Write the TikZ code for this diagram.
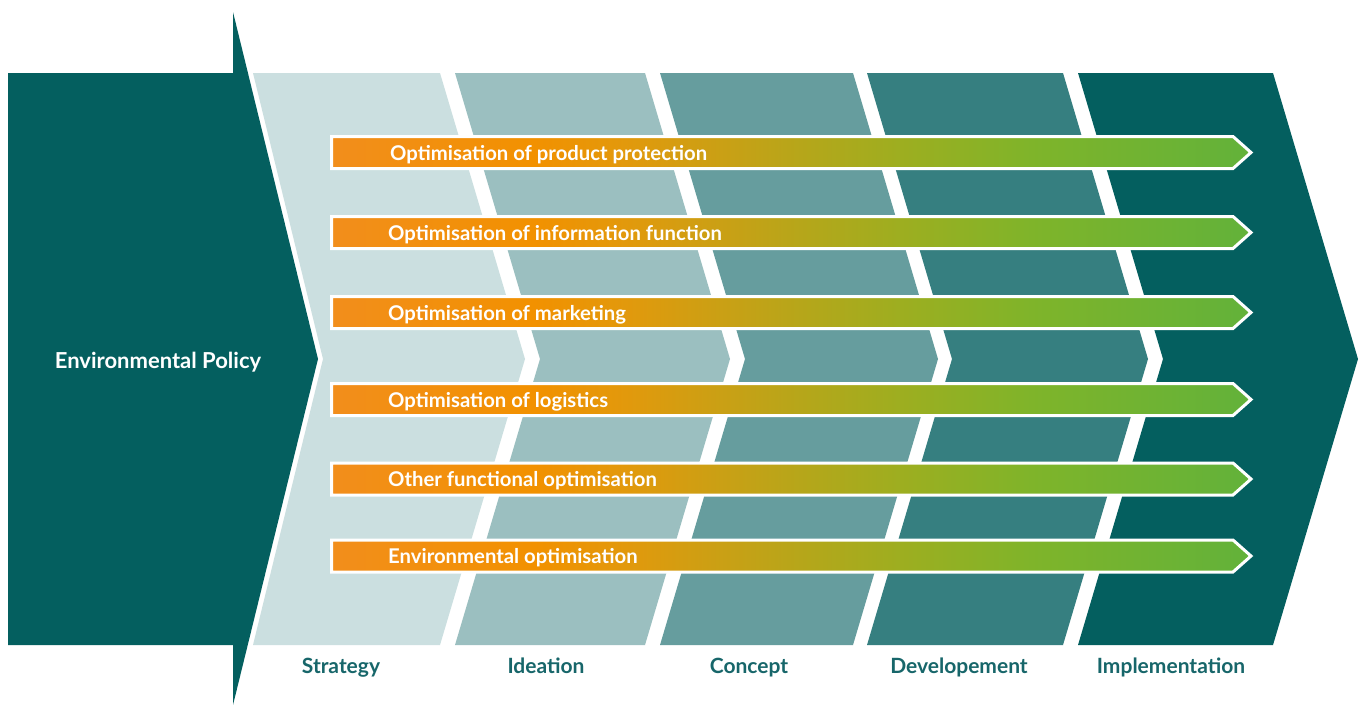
\documentclass[tikz,border=0pt]{standalone}
\usepackage{fontspec}
\setmainfont{Lato}
\definecolor{policyc}{HTML}{045F5F}
\definecolor{strategyc}{HTML}{CBDFE0}
\definecolor{ideationc}{HTML}{9BBFC0}
\definecolor{conceptc}{HTML}{669D9E}
\definecolor{developc}{HTML}{367F80}
\definecolor{implc}{HTML}{045F5F}
\definecolor{labelc}{HTML}{17666A}
\definecolor{orA}{HTML}{F28E1C}
\definecolor{orB}{HTML}{F29100}
\definecolor{orC}{HTML}{E2990C}
\definecolor{midC}{HTML}{C6A116}
\definecolor{grA}{HTML}{9DAE20}
\definecolor{grB}{HTML}{7FB42A}
\definecolor{grC}{HTML}{62B23A}
\pgfdeclarehorizontalshading{arrowshade}{100bp}{color(0bp)=(orA); color(25bp)=(orA); color(36bp)=(orB); color(41bp)=(orC); color(47bp)=(midC); color(56bp)=(grA); color(63bp)=(grB); color(75bp)=(grC); color(100bp)=(grC)}
\begin{document}
\begin{tikzpicture}[x=1pt,y=-1pt,
  arrowbody/.style={shade, shading=arrowshade, draw=white, line width=3pt, line join=miter},
  arrowlabel/.style={anchor=base west, text=white, inner sep=0pt, font=\bfseries\fontsize{20.3}{22}\selectfont},
  stagelabel/.style={anchor=base, text=labelc, inner sep=0pt, font=\bfseries\fontsize{21}{23}\selectfont},
  policylabel/.style={anchor=base, text=white, inner sep=0pt, font=\bfseries\fontsize{22}{24}\selectfont}]
\useasboundingbox[fill=white] (0,0) rectangle (1362,704);
% environmental policy block
\fill[policyc] (8,73) -- (233,73) -- (233,12) -- (318,359) -- (233,705) -- (233,645) -- (8,645) -- cycle;
\node[policylabel] (policy) at (158,368) {Environmental Policy};
% stage bands
\fill[strategyc] (253,73) -- (323,359) -- (253,645) -- (440,645) -- (525,359) -- (440,73) -- cycle;
\fill[ideationc] (455,73) -- (540,359) -- (455,645) -- (645,645) -- (730,359) -- (645,73) -- cycle;
\fill[conceptc] (660,73) -- (745,359) -- (660,645) -- (853,645) -- (938,359) -- (853,73) -- cycle;
\fill[developc] (867,73) -- (952,359) -- (867,645) -- (1063,645) -- (1148,359) -- (1063,73) -- cycle;
\fill[implc] (1078,73) -- (1163,359) -- (1078,645) -- (1273,645) -- (1358,359) -- (1273,73) -- cycle;
% stage labels
\node[stagelabel] (s1) at (341,673) {Strategy};
\node[stagelabel] (s2) at (546,673) {Ideation};
\node[stagelabel] (s3) at (749,673) {Concept};
\node[stagelabel] (s4) at (959,673) {Developement};
\node[stagelabel] (s5) at (1171,673) {Implementation};
% optimisation arrows
\foreach \c/\t/\n/\xx in {152.5/Optimisation of product protection/a1/390,
                    232.5/Optimisation of information function/a2/388,
                    312.5/Optimisation of marketing/a3/388,
                    399.5/Optimisation of logistics/a4/388,
                    479/Other functional optimisation/a5/388,
                    556/Environmental optimisation/a6/388}{
  \path[arrowbody] (331.5,\c-16) -- (1233,\c-16) -- (1251,\c) -- (1233,\c+16) -- (331.5,\c+16) -- cycle;
  \node[arrowlabel] (\n) at (\xx,\c+7.5) {\t};
}
\end{tikzpicture}
\end{document}
